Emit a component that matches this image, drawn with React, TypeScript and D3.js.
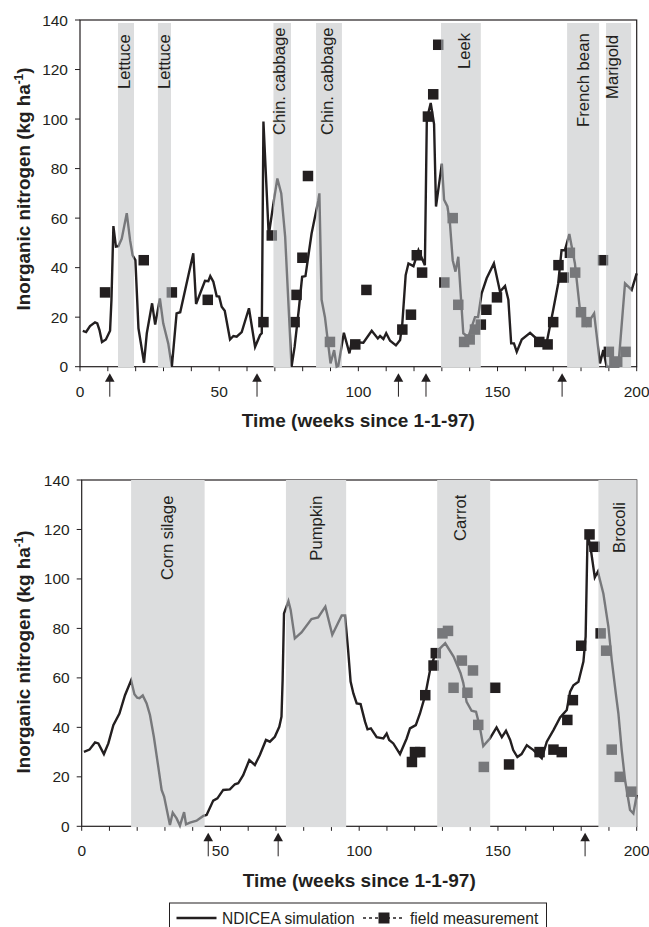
import * as d3 from 'd3';

type Pt = [number, number];
type Band = { name: string; from: number; to: number; labelEnd: number; dx: number };

const INK = '#231f20';
const GREY = '#77787b';
const BAND = '#dcddde';
const FONT = '"Liberation Sans", Arial, sans-serif';

// [week, kg/ha]
const topSimulation: Pt[] = [
  [1, 14.5], [2.2, 14], [3.6, 16.4], [5.4, 17.9], [6.2, 17.5], [7, 14.8], [7.9, 10], [9.3, 11], [10.8, 14.5],
  [11.3, 27], [12, 56.8], [12.9, 48.5], [13.8, 48.7], [15, 51.7], [16.8, 62], [18, 51], [18.9, 45], [19.9, 43],
  [21, 15.5], [23, 1.6], [24, 13.5], [25.9, 25.6], [27, 17], [28.7, 27.6], [29.9, 17.5], [31.7, 9.4], [33, 0],
  [34.7, 21.5], [36, 22], [40.7, 45.8], [41.7, 25.3], [44.9, 34.7], [46.1, 34.5], [46.8, 36.6], [47.9, 34.3],
  [49.1, 28.5], [50, 28.3], [50.9, 24.2], [52, 22.6], [53.9, 11], [55.1, 12.4], [56.3, 12.1], [58.1, 14],
  [60.7, 23.6], [62.9, 8], [64.7, 12.8], [65.3, 13.5], [65.9, 99], [67.8, 53], [69.5, 66], [70.9, 76], [72.3, 70],
  [73.7, 52.5], [76, 0], [77.1, 8], [78.6, 23], [79.8, 36.3], [81, 36.6], [83.2, 53.8], [85.6, 67], [86, 70],
  [86.8, 27], [88, 20], [90, 1.3], [91.3, 6.7], [92.2, 0], [92.8, 0.3], [94.8, 13.7], [96.8, 5.4], [97.6, 10],
  [101.8, 9.7], [104.8, 14.5], [107, 11.4], [107.8, 12.4], [109, 11.2], [110, 13.5], [111.4, 10.5], [113.5, 8.6],
  [115, 10.8], [115.8, 17.5], [117, 37], [118, 41.7], [119.8, 40.6], [121.6, 47], [123.9, 41], [124.6, 100],
  [126, 106.5], [127.2, 98], [127.9, 64.7], [130, 82], [130.8, 67.4], [132, 64.7], [132.9, 58], [133.9, 43],
  [134.9, 38.4], [135.9, 44.4], [137.7, 13.5], [139.5, 12], [141.9, 20], [143, 20], [144.3, 29.6], [146.1, 35.7],
  [148.7, 41.7], [150.9, 30.3], [152.7, 32.6], [153.9, 27], [154.9, 9.4], [155.9, 9.4], [156.9, 6], [158.7, 11],
  [161.7, 13.7], [165.3, 10], [167.7, 10], [170, 22.9], [171.8, 33.6], [173, 47], [174.2, 47], [175.8, 53.6],
  [177.8, 41.7], [179.6, 23], [182, 16.8], [184.7, 21.5], [186.8, 1.3], [188, 6.7], [189.2, 0], [193.4, 0],
  [195.8, 33.6], [198.2, 31], [200, 37.7],
];

const topMeasured: Pt[] = [
  [9, 30], [22.9, 43], [33, 30], [45.9, 27], [65.9, 18], [68.9, 53], [77.1, 18], [77.8, 29], [79.9, 44], [81.9, 77],
  [89.8, 10], [98.9, 9], [102.9, 31], [115.8, 15], [118.9, 21], [121, 45], [122.9, 38], [125, 101], [126.9, 110],
  [128.7, 130], [130.9, 34], [133.9, 60], [135.9, 25], [138, 10], [140, 11], [141.9, 15], [144, 17], [146, 23],
  [149.8, 28], [165, 10], [168, 9], [170, 18], [171.9, 41], [173.8, 36], [176, 46], [177.9, 38], [180, 22], [182, 18],
  [187.9, 43], [190, 6], [192, 2], [193, 2], [196, 6],
];

const topBands: Band[] = [
  { name: 'Lettuce', from: 13.65, to: 19.4, labelEnd: 69, dx: 4 },
  { name: 'Lettuce', from: 28, to: 32.7, labelEnd: 69, dx: 5.5 },
  { name: 'Chin. cabbage', from: 69.5, to: 75.8, labelEnd: 115, dx: 3 },
  { name: 'Chin. cabbage', from: 84.8, to: 94.1, labelEnd: 115, dx: 3.7 },
  { name: 'Leek', from: 129.7, to: 144, labelEnd: 49, dx: 9 },
  { name: 'French bean', from: 175, to: 186.5, labelEnd: 107, dx: 6 },
  { name: 'Marigold', from: 189, to: 198, labelEnd: 79, dx: -1 },
];

const topArrows = [10.7, 63.6, 114.4, 124.3, 173.2];

const bottomSimulation: Pt[] = [
  [0.8, 30.1], [2.8, 31], [4.8, 33.9], [6, 33.5], [8, 29.2], [9.6, 33.5], [11.4, 40.9], [13.6, 45.6], [15.6, 53],
  [17.8, 59], [19, 53.4], [20, 52], [20.8, 51.8], [22, 52.9], [23.4, 49.7], [24.6, 45], [26, 36.2], [27.6, 24],
  [28.8, 14.7], [29.7, 12], [31.8, 0.5], [32.8, 5.5], [34.2, 3.2], [35.4, 0.3], [36.9, 5.7], [37.6, 0.8], [39, 1.5],
  [41.4, 2.3], [43.8, 4.2], [45, 4.6], [47.4, 10.4], [48.9, 11.3], [51, 14.7], [53.4, 14.9], [55.2, 17], [56.4, 17.4],
  [58.2, 20.7], [60.4, 26.8], [62.4, 24.8], [64.2, 28.8], [66.4, 34.9], [67.8, 34.2], [69.6, 36.2], [71.2, 40.2],
  [72, 44.3], [72.4, 59], [72.9, 86], [74.5, 91], [75.3, 87.5], [76.8, 76], [79.2, 78.4], [82.8, 83.8], [85.2, 84.4],
  [87.8, 88.8], [90.3, 77.4], [93.7, 85.2], [94.9, 85.2], [96, 71.3], [96.9, 58.5], [97.9, 53.7], [99.1, 49.7],
  [100.5, 49.4], [102.1, 42.3], [103, 39.2], [104.2, 39.6], [106.3, 36], [108.7, 35.5], [109.9, 37.5], [110.8, 34.9],
  [112.3, 33.5], [114.7, 29.2], [117.1, 35.5], [118.3, 39.6], [120.4, 40.9], [121.9, 45.6], [123.8, 53], [125.5, 63],
  [126.7, 67.3], [127.4, 70], [131, 74], [134, 68.6], [136.5, 62], [137.5, 58], [138.7, 50.3], [140.5, 46.7],
  [142.1, 46.3], [143.5, 40], [144.7, 32.4], [147.1, 35.5], [149.5, 40], [151.4, 36], [152.9, 38.6], [154.4, 34.9],
  [155.5, 30.8], [157, 28], [158.5, 29.2], [160.4, 32.8], [162.8, 30.8], [165.8, 27.5], [167.6, 34.2], [170, 38.9],
  [172.4, 44], [174.8, 47], [176, 54.4], [177.2, 57], [179, 58.4], [180.8, 66.6], [181.6, 76.7], [182.3, 118.4],
  [183.5, 111.7], [184.9, 100.6], [186, 103], [188, 94], [189.8, 80.7], [191, 67.3], [192.6, 52.5], [193.4, 45.6],
  [194.6, 30.8], [195.8, 18.7], [197.6, 6.6], [198.8, 5.2], [200, 12.7],
];

const bottomMeasured: Pt[] = [
  [119, 26], [120.1, 30], [122, 30], [123.8, 53], [126.8, 65], [127.6, 70], [130, 78], [132, 79], [134, 56], [137, 67],
  [139, 54], [141, 63], [142.9, 41], [144.9, 24], [149, 56], [154, 25], [165, 30], [170, 31], [173, 30], [175, 43],
  [177, 51], [180, 73], [183, 118], [184.8, 113], [187, 78], [189, 71], [191, 31], [193.9, 20], [198, 14],
];

const bottomBands: Band[] = [
  { name: 'Corn silage', from: 17.8, to: 44.3, labelEnd: 100, dx: 5 },
  { name: 'Pumpkin', from: 73.6, to: 95.3, labelEnd: 80.7, dx: 5.7 },
  { name: 'Carrot', from: 128.1, to: 147.2, labelEnd: 61, dx: 2 },
  { name: 'Brocoli', from: 186.2, to: 200, labelEnd: 73, dx: 7.5 },
];

const bottomArrows = [45.6, 70.8, 181.4];

const xTickLabels = [0, 50, 100, 150, 200];
const yTickValues = [0, 20, 40, 60, 80, 100, 120, 140];
const xTickValues = d3.range(0, 201, 10);

type PanelProps = {
  id: string;
  left: number;
  right: number;
  top: number;
  bottom: number;
  bandTop: number;
  simulation: Pt[];
  measured: Pt[];
  bands: Band[];
  arrows: number[];
  titleY: number;
};

function Panel({ id, left, right, top, bottom, bandTop, simulation, measured, bands, arrows, titleY }: PanelProps) {
  const x = d3.scaleLinear().domain([0, 200]).range([left, right]);
  const y = d3.scaleLinear().domain([0, 140]).range([bottom, top]);
  const line = d3.line<Pt>().x(d => x(d[0])).y(d => y(d[1]));
  const SQUARE = 10.5;

  const marks = (stroke: string) => (
    <g>
      <path d={line(simulation) ?? ''} fill="none" stroke={stroke} strokeWidth={2.4} strokeLinejoin="miter" strokeMiterlimit={4} />
      {measured.map((d, i) => (
        <rect key={i} x={x(d[0]) - SQUARE / 2} y={y(d[1]) - SQUARE / 2} width={SQUARE} height={SQUARE} fill={stroke} />
      ))}
    </g>
  );

  // Series is grey inside a crop band, black outside: two complementary clips.
  const bandRects = bands.map(b => `M${x(b.from)},0H${x(b.to)}V${bottom + 20}H${x(b.from)}Z`).join('');
  const outside = `M0,0H649V${bottom + 20}H0Z${bandRects}`;

  return (
    <g fontFamily={FONT} fill={INK}>
      <defs>
        <clipPath id={`${id}-in`}>
          <path d={bandRects} />
        </clipPath>
        <clipPath id={`${id}-out`}>
          <path d={outside} clipRule="evenodd" />
        </clipPath>
      </defs>

      {/* frame and ticks first, the crop bands sit on top of the axis line */}
      <rect x={left} y={top} width={right - left} height={bottom - top} fill="none" stroke={INK} strokeWidth={1.2} />
      {xTickValues.map(t => (
        <line key={t} x1={x(t)} x2={x(t)} y1={bottom} y2={bottom + 4.5} stroke={INK} strokeWidth={1} />
      ))}
      {yTickValues.map(t => (
        <g key={t}>
          <line x1={left - 5} x2={left} y1={y(t)} y2={y(t)} stroke={INK} strokeWidth={1} />
          <text x={left - 12} y={y(t) + 5.5} textAnchor="end" fontSize={15.5}>{t}</text>
        </g>
      ))}
      {xTickLabels.map(t => (
        <text key={t} x={x(t)} y={bottom + 30} textAnchor="middle" fontSize={15.5}>{t}</text>
      ))}

      {bands.map((b, i) => (
        <rect key={i} x={x(b.from)} y={bandTop} width={x(b.to) - x(b.from)} height={bottom + 0.8 - bandTop} fill={BAND} />
      ))}
      {bands.map((b, i) => (
        <text
          key={i}
          transform={`translate(${(x(b.from) + x(b.to)) / 2 + b.dx},${top + b.labelEnd}) rotate(-90)`}
          fontSize={16.7}
        >
          {b.name}
        </text>
      ))}

      <g clipPath={`url(#${id}-out)`}>{marks(INK)}</g>
      <g clipPath={`url(#${id}-in)`}>{marks(GREY)}</g>

      {arrows.map((a, i) => (
        <g key={i}>
          <line x1={x(a)} x2={x(a)} y1={bottom + 10} y2={bottom + 30} stroke={INK} strokeWidth={1} />
          <path d={`M${x(a)},${bottom + 6.5}l4.8,8.5h-9.6z`} fill={INK} />
        </g>
      ))}

      <text x={(left + right) / 2} y={bottom + 60.5} textAnchor="middle" fontSize={19} fontWeight="bold">
        Time (weeks since 1-1-97)
      </text>
      <text
        transform={`translate(30,${titleY}) rotate(-90)`}
        textAnchor="middle"
        fontSize={19}
        fontWeight="bold"
        textLength={243}
        lengthAdjust="spacingAndGlyphs"
      >
        Inorganic nitrogen (kg ha<tspan dy={-7} fontSize={12}>-1</tspan><tspan dy={7}>)</tspan>
      </text>
    </g>
  );
}

export default function App() {
  return (
    <svg
      width={649}
      height={927}
      viewBox="0 0 649 927"
      style={{ position: 'absolute', left: 0, top: 0, background: '#fff' }}
    >
      <Panel
        id="top"
        left={80}
        right={636.7}
        top={20}
        bottom={366.7}
        bandTop={23}
        simulation={topSimulation}
        measured={topMeasured}
        bands={topBands}
        arrows={topArrows}
        titleY={189}
      />
      <Panel
        id="bottom"
        left={81.7}
        right={636.7}
        top={480}
        bottom={826.3}
        bandTop={480}
        simulation={bottomSimulation}
        measured={bottomMeasured}
        bands={bottomBands}
        arrows={bottomArrows}
        titleY={652}
      />

      {/* legend box runs off the bottom of the page in the source */}
      <g fontFamily={FONT} fill={INK} fontSize={15.6}>
        <rect x={169.5} y={903} width={377} height={30} fill="#fff" stroke={INK} strokeWidth={1} />
        <line x1={176.5} x2={216.5} y1={918} y2={918} stroke={INK} strokeWidth={2.3} />
        <text x={222} y={924}>NDICEA simulation</text>
        <line x1={363} x2={405} y1={918} y2={918} stroke={INK} strokeWidth={1.5} strokeDasharray="3 3" />
        <rect x={378.5} y={912.5} width={11} height={11} fill={INK} />
        <text x={410} y={924}>field measurement</text>
      </g>
    </svg>
  );
}
